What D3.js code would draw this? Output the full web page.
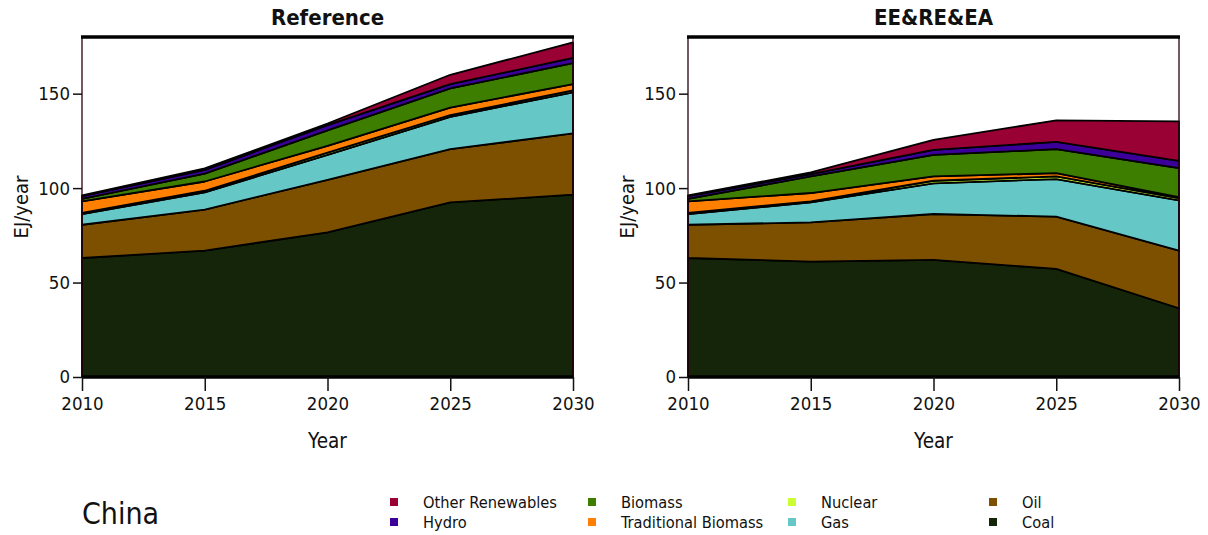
<!DOCTYPE html>
<html><head><meta charset="utf-8">
<script src="https://cdn.jsdelivr.net/npm/d3@7"></script>
<style>
body{margin:0;background:#fff;}
text{font-family:"DejaVu Sans Condensed","DejaVu Sans",sans-serif;font-stretch:condensed;fill:#111;}
</style></head><body>
<svg id="c" width="1208" height="535"></svg>
<script>
const years = [2010, 2015, 2020, 2025, 2030];
const seriesNames = ["Coal","Oil","Gas","Nuclear","Traditional Biomass","Biomass","Hydro","Other Renewables"];
const seriesColors = ["#15250a","#7d5000","#66c7c7","#ccff33","#ff8000","#3d7d00","#3a0099","#990033"];
const yTicks = [0, 50, 100, 150];
const xTicks = [2010, 2015, 2020, 2025, 2030];
const panelTitles = ["Reference", "EE&RE&EA"];

// Reference scenario (EJ/year), layer values per year
const refCoal    = [63.0, 66.9, 76.6, 92.4, 96.5];
const refOil     = [17.6, 21.7, 27.8, 28.2, 32.5];
const refGas     = [5.7, 9.1, 13.2, 17.1, 21.7];
const refNuclear = [0.6, 0.9, 1.2, 1.0, 1.0];
const refTradBio = [6.1, 4.9, 3.6, 3.9, 3.4];
const refBiomass = [1.3, 4.2, 8.2, 10.2, 11.1];
const refHydro   = [1.5, 2.0, 2.7, 2.2, 2.7];
const refOther   = [0.3, 0.7, 0.9, 5.0, 8.2];

// EE&RE&EA scenario
const eeCoal    = [63.0, 61.1, 62.0, 57.2, 36.4];
const eeOil     = [17.6, 20.8, 24.3, 27.7, 30.5];
const eeGas     = [5.7, 10.5, 16.2, 19.9, 26.6];
const eeNuclear = [0.6, 0.6, 1.4, 1.4, 1.2];
const eeTradBio = [6.1, 4.4, 2.3, 1.7, 0.5];
const eeBiomass = [1.3, 8.8, 11.4, 12.7, 15.4];
const eeHydro   = [1.5, 1.2, 2.6, 3.9, 3.8];
const eeOther   = [0.3, 0.9, 5.3, 11.4, 20.9];

const scenarios = [
  [refCoal, refOil, refGas, refNuclear, refTradBio, refBiomass, refHydro, refOther],
  [eeCoal, eeOil, eeGas, eeNuclear, eeTradBio, eeBiomass, eeHydro, eeOther]
];

const svg = d3.select("#c");
const panels = [{x0:82, x1:573}, {x0:688, x1:1179}];
const yTop = 37, yBot = 377;

panels.forEach((p, pi) => {
  const x = d3.scaleLinear().domain([2010, 2030]).range([p.x0, p.x1]);
  const y = d3.scaleLinear().domain([0, 180]).range([yBot, yTop]);
  const rows = years.map((yr, i) => {
    const r = {year: yr};
    seriesNames.forEach((s, si) => r[s] = scenarios[pi][si][i]);
    return r;
  });
  const stacked = d3.stack().keys(seriesNames)(rows);
  const area = d3.area().x(d => x(d.data.year)).y0(d => y(d[0])).y1(d => y(d[1]));
  const g = svg.append("g");
  g.selectAll("path.a").data(stacked).join("path")
    .attr("class","a")
    .attr("d", area)
    .attr("fill", (d, i) => seriesColors[i])
    .attr("stroke", "#000").attr("stroke-width", 1.8).attr("stroke-linejoin","round");

  // frame
  g.append("rect").attr("x", p.x0).attr("y", yTop).attr("width", p.x1 - p.x0).attr("height", yBot - yTop)
    .attr("fill","none").attr("stroke","#2a0010").attr("stroke-width",1.3);
  g.append("line").attr("x1", p.x0 - 1).attr("x2", p.x1 + 1).attr("y1", yTop).attr("y2", yTop)
    .attr("stroke","#000").attr("stroke-width",3.5);
  g.append("line").attr("x1", p.x0).attr("x2", p.x1).attr("y1", yBot).attr("y2", yBot)
    .attr("stroke","#000").attr("stroke-width",3.5);

  // y axis
  const ya = d3.axisLeft(y).tickValues(yTicks).tickSize(9).tickPadding(3).tickFormat(d3.format("d"));
  const yg = g.append("g").attr("transform", `translate(${p.x0},0)`).call(ya);
  yg.select(".domain").remove();
  yg.selectAll(".tick line").attr("stroke","#111").attr("stroke-width",1.5);
  yg.selectAll(".tick text").style("font-size","18.5px").attr("fill","#111");

  // x axis
  const xa = d3.axisBottom(x).tickValues(xTicks).tickSize(14).tickPadding(6).tickFormat(d3.format("d"));
  const xg = g.append("g").attr("transform", `translate(0,${yBot})`).call(xa);
  xg.select(".domain").remove();
  xg.selectAll(".tick line").attr("stroke","#111").attr("stroke-width",1.5);
  xg.selectAll(".tick text").style("font-size","18.5px").attr("fill","#111");

  // labels
  const cx = (p.x0 + p.x1) / 2;
  g.append("text").attr("x", cx).attr("y", 25).attr("text-anchor","middle")
    .style("font-size","22px").style("font-weight","bold").text(panelTitles[pi]);
  g.append("text").attr("x", cx).attr("y", 448).attr("text-anchor","middle")
    .style("font-size","20.5px").text("Year");
  g.append("text").attr("transform", `translate(${p.x0 - 54},${(yTop + yBot) / 2}) rotate(-90)`)
    .attr("text-anchor","middle").style("font-size","20px").text("EJ/year");
});

// region label
svg.append("text").attr("x", 82).attr("y", 524).style("font-size","30px").text("China");

// legend
const legendOrder = ["Other Renewables","Hydro","Biomass","Traditional Biomass","Nuclear","Gas","Oil","Coal"];
const colX = [394, 592, 792, 993];
const rowY = [502, 522];
legendOrder.forEach((name, i) => {
  const col = Math.floor(i / 2), row = i % 2;
  const ci = seriesNames.indexOf(name);
  const lg = svg.append("g");
  lg.append("rect").attr("x", colX[col] - 4).attr("y", rowY[row] - 4).attr("width", 8).attr("height", 8)
    .attr("fill", seriesColors[ci]);
  lg.append("text").attr("x", colX[col] + 29).attr("y", rowY[row] + 6)
    .style("font-size","16.3px").text(name);
});
</script>
</body></html>
